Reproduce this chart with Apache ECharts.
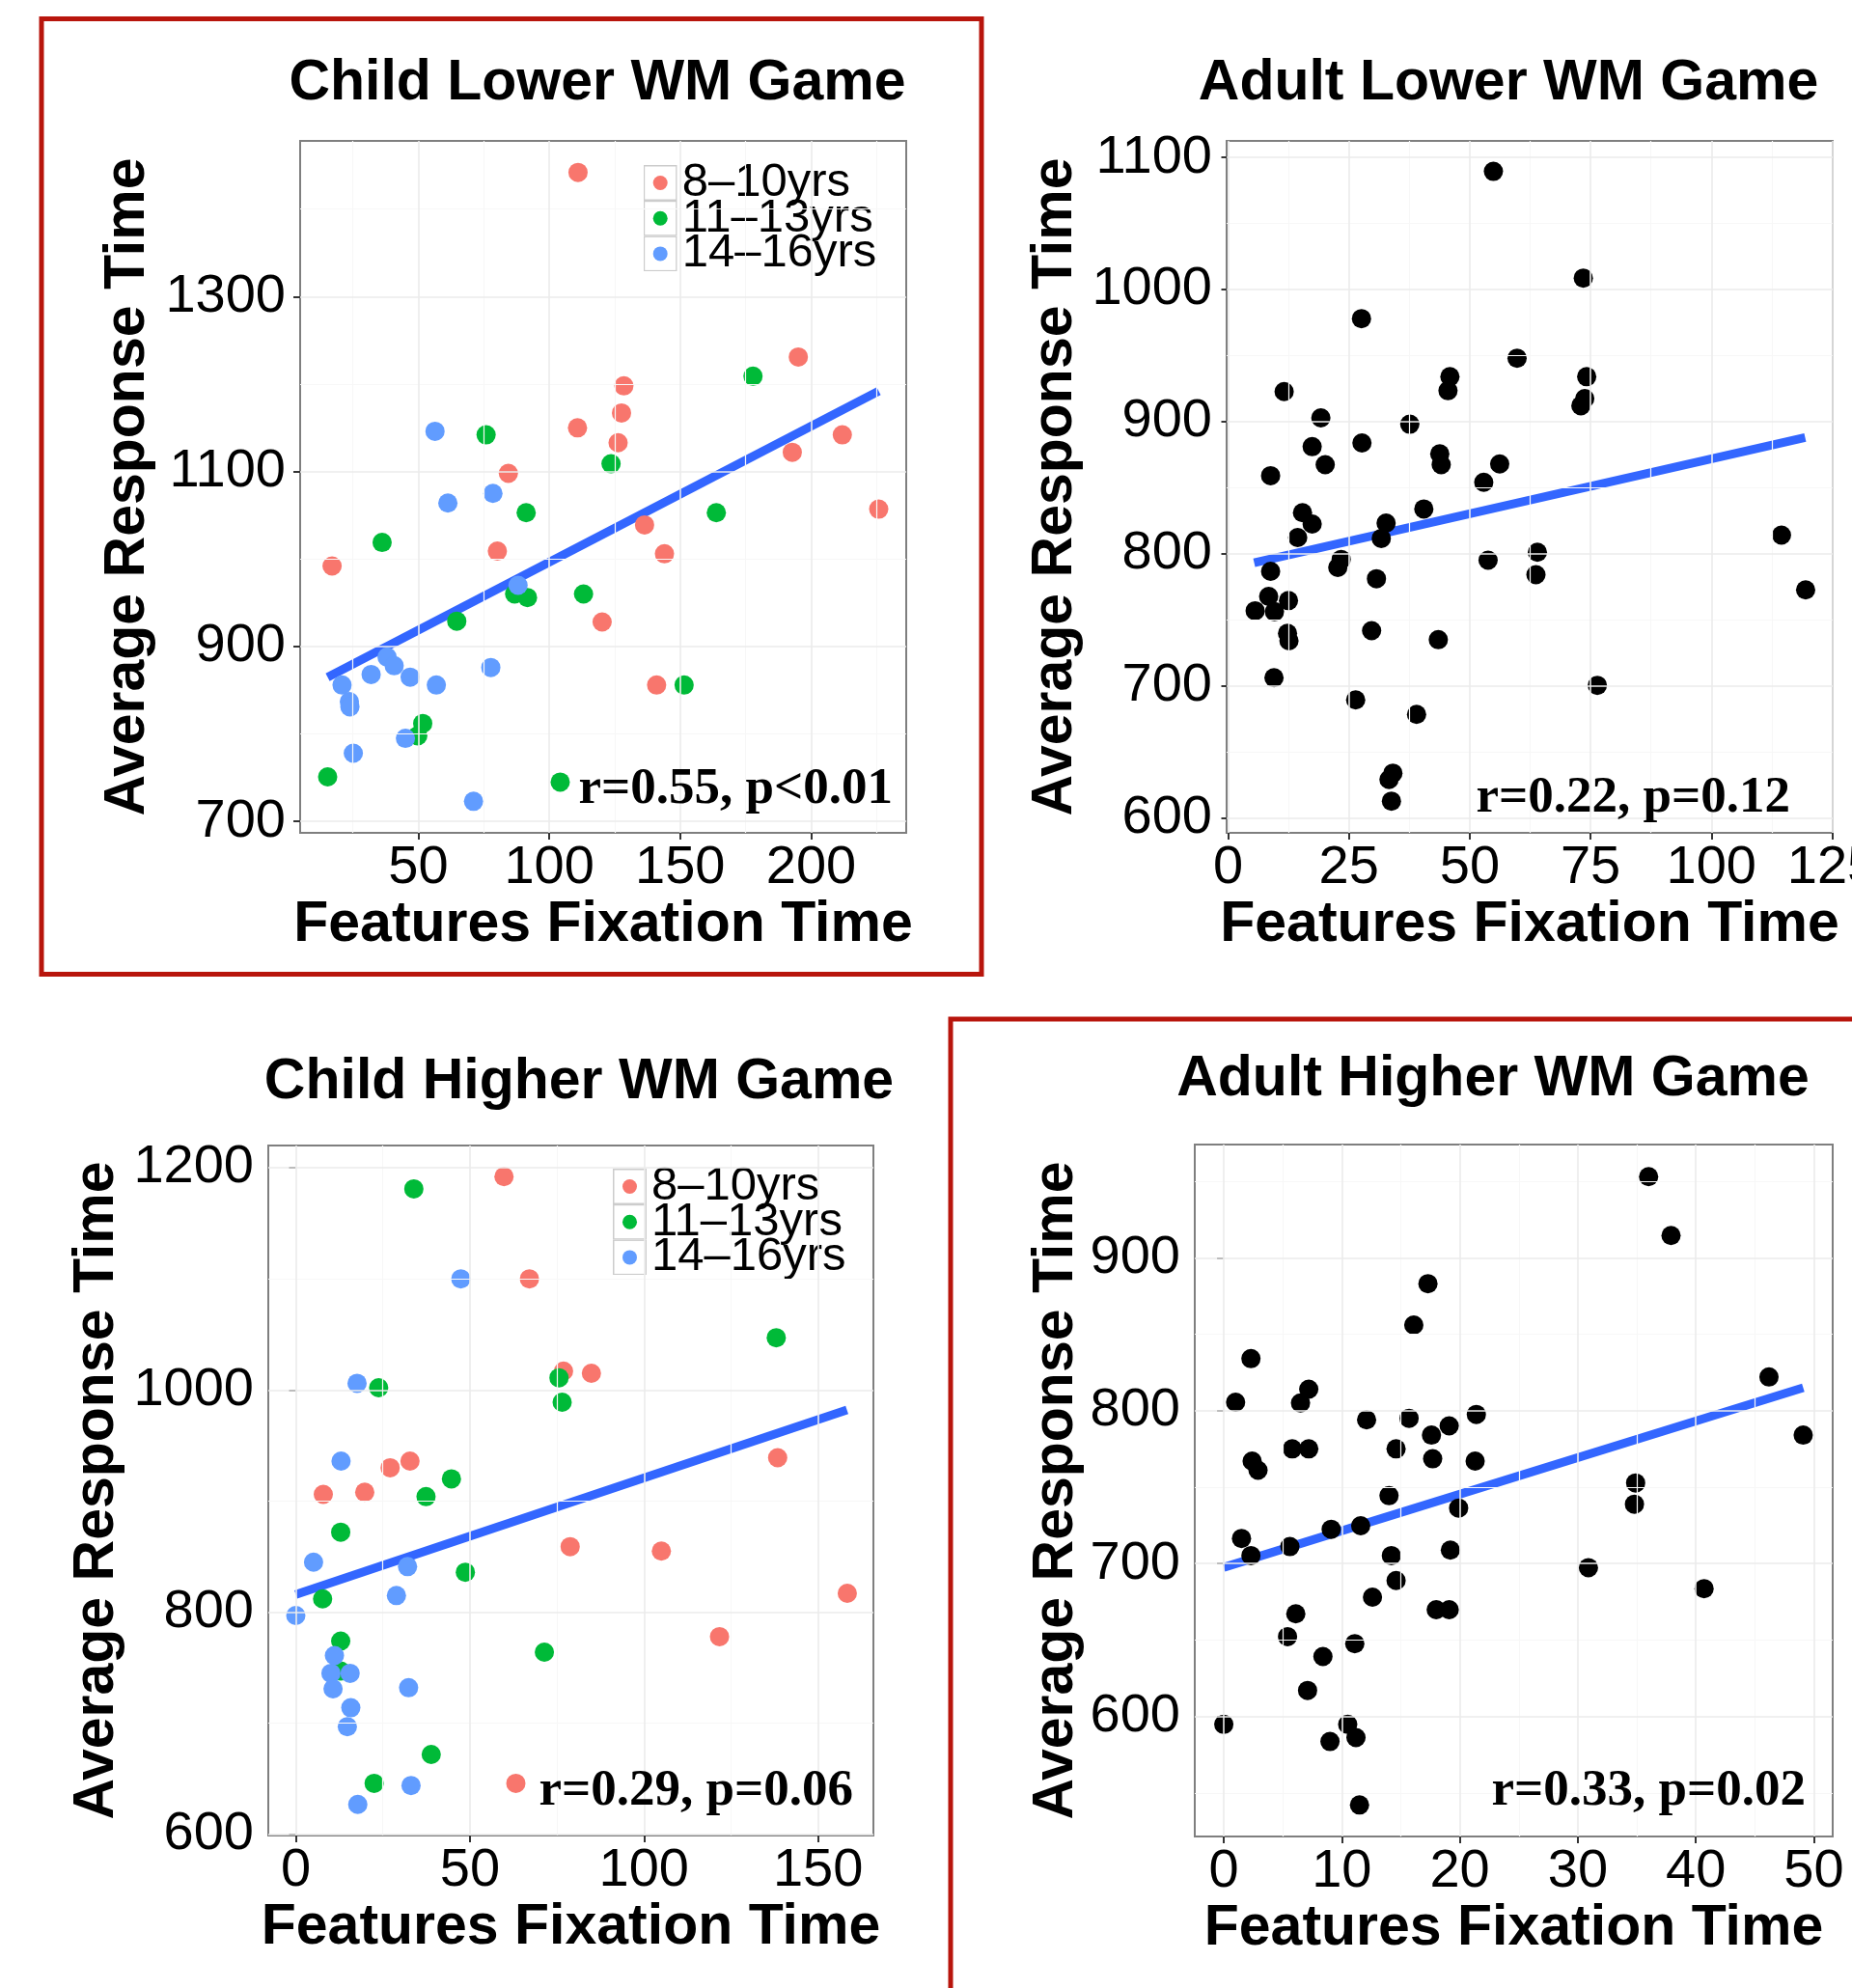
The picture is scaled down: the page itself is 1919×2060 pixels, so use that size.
<!DOCTYPE html>
<html><head><meta charset="utf-8">
<script src="https://cdn.jsdelivr.net/npm/echarts@6/dist/echarts.min.js"></script>
<style>html,body{margin:0;padding:0;background:#fff}#c{width:1919px;height:2060px}</style>
</head><body><div id="c"></div>
<script>
// ---------- DATA ----------
const ageGroups = ['8–10yrs', '11–13yrs', '14–16yrs'];

// Child Lower WM Game  [fixation time, response time]
const childLower8to10 = [[111,1442],[110.8,1150],[84.4,1098],[195.1,1231],[128.5,1198],[127.6,1167],[126.3,1133],[211.9,1142],[192.8,1122],[80.2,1009],[17.1,992],[120.2,928],[225.8,1057],[136.4,1039],[144,1006],[141,856]];
const childLower11to13 = [[75.9,1142],[177.8,1209],[123.6,1109],[91.2,1053],[36.2,1019],[86.8,960],[91.7,956],[113.1,960],[64.7,929],[51.7,812],[49.8,798],[15.4,751],[104.2,745],[163.8,1053],[151.5,856]];
const childLower14to16 = [[56.4,1146],[78.5,1075],[61.3,1064],[88.1,970],[38.1,888],[40.8,878],[32,868],[46.9,865],[20.9,856],[56.9,856],[77.7,876],[23.7,837],[23.9,831],[45.1,795],[25.2,778],[71.1,723]];

// Adult Lower WM Game
const adultLower = [[54.9,1089.5],[27.6,978],[59.8,948],[11.6,922.7],[45.9,934],[45.5,923.4],[19.2,902.8],[37.6,898],[17.4,881],[27.7,883.8],[20.1,867.4],[43.8,875.5],[44.1,867.4],[56.2,867.9],[8.8,859],[52.9,854],[73.5,1008.7],[74.2,934],[73.8,917.4],[73,912],[15.4,831],[17.4,822.4],[14.4,812.2],[40.5,833.8],[32.7,823.1],[31.7,811.5],[8.8,786.6],[23.4,795.6],[22.7,789.5],[30.7,781],[53.8,795],[8.4,767.6],[12.5,764.4],[5.6,756.7],[9.6,756],[12.3,739.6],[12.6,734],[29.7,741.6],[43.5,734.8],[9.5,706],[26.4,689.2],[39,678.2],[34.1,633.7],[33.3,628.9],[33.8,612.5],[64,801],[63.7,784],[114.5,814],[119.5,772.5],[76.4,700.2]];

// Child Higher WM Game
const childHigher8to10 = [[59.8,1192],[67.1,1100],[76.9,1017],[84.9,1015],[27.1,930],[32.8,936],[138.4,939],[7.9,906],[19.8,908],[78.8,859],[105,855],[158.4,817],[121.7,778],[63.2,646]];
const childHigher11to13 = [[33.9,1181],[138,1047],[75.6,1011],[76.5,989],[23.8,1002],[44.7,920],[37.4,904],[12.9,872],[48.7,836],[7.7,812],[12.9,774],[12.9,747],[71.4,764],[38.9,672],[22.5,646]];
const childHigher14to16 = [[47.4,1100],[17.6,1006],[13,936],[5.1,845],[32.1,841],[28.9,815],[0,797],[11.1,761],[10.1,745],[15.6,745],[10.7,731],[32.4,732],[15.8,714],[14.8,697],[33.1,644],[17.8,627]];

// Adult Higher WM Game
const adultHigher = [[36,953],[37.9,914.5],[17.3,883],[16.1,856],[2.3,834],[46.2,822],[7.2,814],[1,805.5],[6.5,805],[12.1,794],[15.7,795],[21.4,797.5],[19.1,790],[17.6,784],[49.1,784],[5.8,775],[7.2,775],[14.6,775],[17.7,768.5],[21.3,767],[2.4,767],[2.9,761],[34.9,752.7],[14,744.4],[34.8,738.8],[19.9,736.3],[1.5,716.4],[2.3,705.2],[5.6,711.1],[9.1,722.4],[11.6,724.7],[14.2,705.2],[19.2,708.8],[14.6,688.9],[30.9,697.3],[40.7,683.6],[12.6,678],[18,669.8],[19.1,669.8],[6.1,667.1],[5.4,652.2],[11.1,647.6],[8.4,639.2],[7.1,617],[0,594.8],[10.5,594.8],[11.2,586.2],[9,583.6],[11.5,542.1]];

// fitted regression lines (end points)
const fitChildLower = [[15.4,865],[225.8,1192]];
const fitAdultLower = [[5.4,793],[119.4,888]];
const fitChildHigher = [[0,816],[158.3,982]];
const fitAdultHigher = [[0,697.5],[49.1,815]];

// correlation annotations
const statChildLower = 'r=0.55, p<0.01';
const statAdultLower = 'r=0.22, p=0.12';
const statChildHigher = 'r=0.29, p=0.06';
const statAdultHigher = 'r=0.33, p=0.02';

// tick labels (major) and minor grid values
const ticksChildLowerX = [50,100,150,200];
const ticksChildLowerY = [700,900,1100,1300];
const minorChildLowerX = [25,75,125,175,225];
const minorChildLowerY = [800,1000,1200,1400];
const ticksAdultLowerX = [0,25,50,75,100,125];
const ticksAdultLowerY = [600,700,800,900,1000,1100];
const minorAdultLowerX = [12.5,37.5,62.5,87.5,112.5];
const minorAdultLowerY = [650,750,850,950,1050];
const ticksChildHigherX = [0,50,100,150];
const ticksChildHigherY = [600,800,1000,1200];
const minorChildHigherX = [25,75,125];
const minorChildHigherY = [700,900,1100];
const ticksAdultHigherX = [0,10,20,30,40,50];
const ticksAdultHigherY = [600,700,800,900];
const minorAdultHigherX = [5,15,25,35,45];
const minorAdultHigherY = [550,650,750,850,950];

// ---------- STYLE / LAYOUT ----------
const groupColors = ['#F8766D', '#00BA38', '#619CFF'];
const SANS = '"Liberation Sans", Arial, Helvetica, sans-serif';
const SERIF = '"Liberation Serif", "Times New Roman", serif';

const panels = [
  { grid:{left:311, top:146, width:628, height:717}, xr:[4.9,236.3], yr:[687,1478],
    xt:ticksChildLowerX, yt:ticksChildLowerY, xm:minorChildLowerX, ym:minorChildLowerY,
    groups:[childLower8to10, childLower11to13, childLower14to16], fit:fitChildLower,
    title:'Child Lower WM Game', titlePos:[619,87], stat:statChildLower, statPos:[925,818],
    yGap:178, xGap:89, legend:{left:664.7, top:163} },
  { grid:{left:1271, top:146, width:628, height:717}, xr:[-0.3,125.1], yr:[588.5,1112.6],
    xt:ticksAdultLowerX, yt:ticksAdultLowerY, xm:minorAdultLowerX, ym:minorAdultLowerY,
    single:adultLower, fit:fitAdultLower,
    title:'Adult Lower WM Game', titlePos:[1563,87], stat:statAdultLower, statPos:[1855,827],
    yGap:177.5, xGap:89 },
  { grid:{left:278, top:1187, width:627, height:715}, xr:[-7.9,165.9], yr:[599,1220],
    xt:ticksChildHigherX, yt:ticksChildHigherY, xm:minorChildHigherX, ym:minorChildHigherY,
    groups:[childHigher8to10, childHigher11to13, childHigher14to16], fit:fitChildHigher,
    title:'Child Higher WM Game', titlePos:[600,1122], stat:statChildHigher, statPos:[884,1856],
    yGap:177, xGap:89.5, legend:{left:633, top:1203} },
  { grid:{left:1238, top:1186, width:661, height:717}, xr:[-2.46,51.6], yr:[521.5,974],
    xt:ticksAdultHigherX, yt:ticksAdultHigherY, xm:minorAdultHigherX, ym:minorAdultHigherY,
    single:adultHigher, fit:fitAdultHigher,
    title:'Adult Higher WM Game', titlePos:[1547,1119], stat:statAdultHigher, statPos:[1871,1856],
    yGap:143, xGap:89.5 }
];

function keyIcon(color) {
  const svg = "<svg xmlns='http://www.w3.org/2000/svg' width='35' height='37' viewBox='0 0 35 37'>" +
    "<rect x='0.75' y='0.75' width='33.5' height='35.5' fill='#ffffff' stroke='#cccccc' stroke-width='1.5'/>" +
    "<circle cx='17.5' cy='18.5' r='7.5' fill='" + color + "'/></svg>";
  return 'image://data:image/svg+xml;charset=utf-8,' + encodeURIComponent(svg);
}

const grids = [], xAxes = [], yAxes = [], series = [], legends = [], graphics = [];

panels.forEach((p, i) => {
  grids.push(Object.assign({ show:true, backgroundColor:'#ffffff', borderColor:'#7f7f7f', borderWidth:2,
    containLabel:false, outerBoundsMode:'none' }, p.grid));
  const labelStyle = { fontSize:56, fontFamily:SANS, color:'#000', formatter: v => String(v) };
  const nameStyle = { fontSize:59, fontWeight:'bold', fontFamily:SANS, color:'#000', verticalAlign:'middle' };
  xAxes.push({
    type:'value', gridIndex:i, min:p.xr[0], max:p.xr[1],
    splitLine:{show:false}, axisLine:{show:false},
    axisTick:{show:true, customValues:p.xt, length:7, lineStyle:{color:'#333', width:2}},
    axisLabel:Object.assign({customValues:p.xt, margin:37, verticalAlign:'middle', hideOverlap:false}, labelStyle),
    name:'Features Fixation Time', nameLocation:'middle', nameGap:p.xGap, nameTextStyle:nameStyle
  });
  yAxes.push({
    type:'value', gridIndex:i, min:p.yr[0], max:p.yr[1],
    splitLine:{show:false}, axisLine:{show:false},
    axisTick:{show:true, customValues:p.yt, length:7, lineStyle:{color:'#333', width:2}},
    axisLabel:Object.assign({customValues:p.yt, margin:15}, labelStyle),
    name:'Average Response Time', nameLocation:'middle', nameGap:p.yGap, nameTextStyle:nameStyle
  });
  // grid lines through the axes' own scales
  const gl = [];
  p.xm.forEach(v => gl.push({xAxis:v, lineStyle:{color:'#f7f7f7', width:1.2, type:'solid'}}));
  p.ym.forEach(v => gl.push({yAxis:v, lineStyle:{color:'#f7f7f7', width:1.2, type:'solid'}}));
  p.xt.forEach(v => gl.push({xAxis:v, lineStyle:{color:'#ebebeb', width:1.6, type:'solid'}}));
  p.yt.forEach(v => gl.push({yAxis:v, lineStyle:{color:'#ebebeb', width:1.6, type:'solid'}}));
  series.push({
    type:'line', xAxisIndex:i, yAxisIndex:i, data:[], z:1, silent:true,
    markLine:{silent:true, symbol:['none','none'], label:{show:false}, animation:false,
      emphasis:{disabled:true}, lineStyle:{type:'solid'}, data:gl}
  });
  // regression line
  series.push({
    type:'line', xAxisIndex:i, yAxisIndex:i, data:p.fit, z:2, silent:true,
    symbol:'none', showSymbol:false, lineStyle:{color:'#3366FF', width:9, cap:'butt'}
  });
  if (p.groups) {
    p.groups.forEach((g, k) => {
      series.push({
        type:'scatter', name:ageGroups[k], xAxisIndex:i, yAxisIndex:i, data:g, z:3,
        symbol:'circle', symbolSize:20, itemStyle:{color:groupColors[k], opacity:1}, emphasis:{disabled:true}
      });
    });
    legends.push({
      data: ageGroups.map((n, k) => ({ name:n, icon:keyIcon(groupColors[k]) })),
      orient:'vertical', left:p.legend.left, top:p.legend.top, itemGap:-12.3,
      itemWidth:35, itemHeight:37, selectedMode:false, backgroundColor:'#ffffff',
      padding:[2,6,2,2], z:4,
      textStyle:{fontSize:49, fontFamily:SANS, color:'#000'}
    });
  } else {
    series.push({
      type:'scatter', xAxisIndex:i, yAxisIndex:i, data:p.single, z:3,
      symbol:'circle', symbolSize:20, itemStyle:{color:'#000', opacity:1}, emphasis:{disabled:true}
    });
  }
  graphics.push({
    type:'text', x:p.titlePos[0], y:p.titlePos[1], z:10,
    style:{text:p.title, font:'bold 59px ' + SANS, fill:'#000',
      align:'center', verticalAlign:'middle', textAlign:'center', textVerticalAlign:'middle'}
  });
  graphics.push({
    type:'text', x:p.statPos[0], y:p.statPos[1], z:10,
    style:{text:p.stat, font:'bold 53px ' + SERIF, fill:'#000',
      align:'right', verticalAlign:'middle', textAlign:'right', textVerticalAlign:'middle'}
  });
});

// red highlight frames
graphics.push({ type:'rect', z:20, shape:{x:43, y:19.5, width:974, height:990},
  style:{fill:'none', stroke:'#b8150c', lineWidth:5} });
graphics.push({ type:'rect', z:20, shape:{x:985, y:1056, width:1000, height:1100},
  style:{fill:'none', stroke:'#b8150c', lineWidth:5} });

const chart = echarts.init(document.getElementById('c'), null, {renderer:'canvas'});
chart.setOption({
  animation:false,
  backgroundColor:'#ffffff',
  grid:grids, xAxis:xAxes, yAxis:yAxes, series:series, legend:legends,
  graphic:{elements:graphics}
});
</script>
</body></html>
